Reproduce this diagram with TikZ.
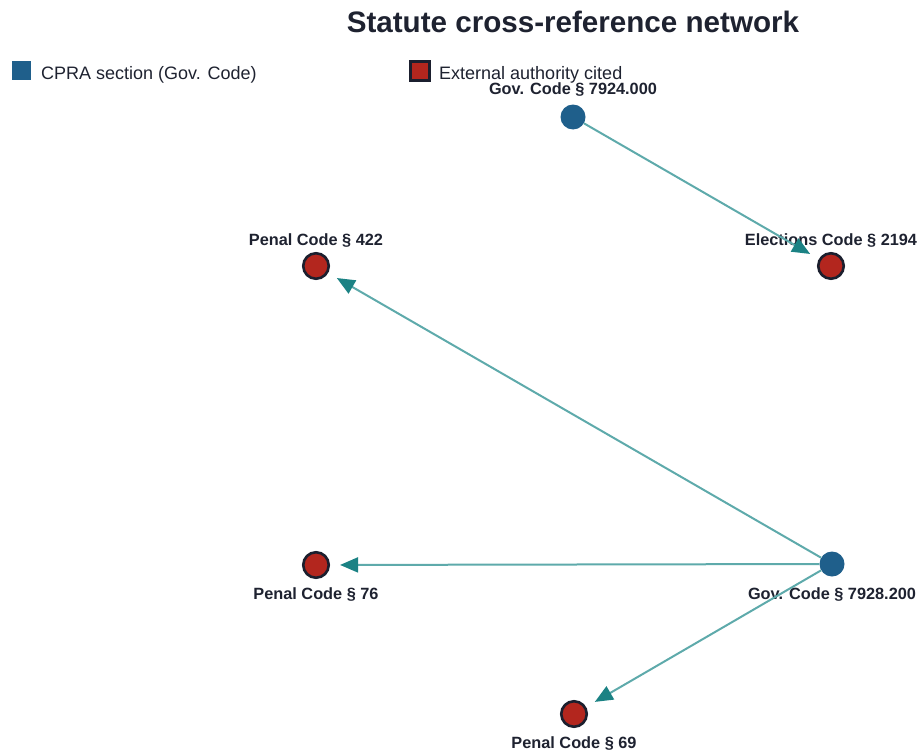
\documentclass[tikz,border=0pt]{standalone}
\usepackage{fontspec}
\setmainfont{Liberation Sans}
\usetikzlibrary{arrows.meta}

\definecolor{cpra}{HTML}{1F5F8B}
\definecolor{extred}{HTML}{B3261E}
\definecolor{rim}{HTML}{1B1F2E}
\definecolor{ink}{HTML}{1E2230}
\definecolor{edgeteal}{HTML}{5EAAAB}
\definecolor{tipteal}{HTML}{1B8284}

\tikzset{
  govnode/.style={circle, fill=cpra, draw=none, minimum size=25pt, inner sep=0pt},
  extnode/.style={circle, fill=extred, draw=rim, line width=2.6pt, minimum size=25.5pt, inner sep=0pt},
  namelabel/.style={anchor=base, text=ink, font=\fontsize{16.3}{18}\selectfont\bfseries, inner sep=0pt},
  legendtext/.style={anchor=base west, text=ink, font=\fontsize{18}{20}\selectfont, inner sep=0pt},
  citeedge/.style={draw=edgeteal, line width=2pt, shorten >=10pt,
    -{Triangle[length=18pt, width=15pt, color=tipteal]}},
}

\begin{document}
\begin{tikzpicture}[x=1pt, y=-1pt]
  \useasboundingbox (0,0) rectangle (921,752);

  % title
  \node (title) [anchor=base, text=ink, inner sep=0pt,
    font=\fontsize{29.6}{33}\selectfont\bfseries] at (573,33) {Statute cross-reference network};

  % legend
  \node (keygov) [rectangle, fill=cpra, minimum size=19pt, inner sep=0pt] at (21,71) {};
  \node (keygovtext) [legendtext] at (41,79) {CPRA section (Gov. Code)};
  \node (keyext) [rectangle, fill=extred, draw=rim, line width=2.4pt, minimum size=19pt, inner sep=0pt] at (420,71) {};
  \node (keyexttext) [legendtext] at (439,79) {External authority cited};

  % statute nodes
  \node (g7924) [govnode] at (573,117) {};
  \node (g7928) [govnode] at (832,564) {};
  \node (e2194) [extnode] at (831,266) {};
  \node (p422)  [extnode] at (316,266) {};
  \node (p76)   [extnode] at (316,565) {};
  \node (p69)   [extnode] at (574,714) {};

  % node names
  \node (g7924name) [namelabel] at (573,95)  {Gov. Code § 7924.000};
  \node (e2194name) [namelabel] at (831,245) {Elections Code § 2194};
  \node (p422name)  [namelabel] at (316,245) {Penal Code § 422};
  \node (p76name)   [namelabel] at (316,599) {Penal Code § 76};
  \node (g7928name) [namelabel] at (832,599) {Gov. Code § 7928.200};
  \node (p69name)   [namelabel] at (574,748) {Penal Code § 69};

  % citations
  \draw[citeedge] (g7924) -- (e2194);
  \draw[citeedge] (g7928) -- (p422);
  \draw[citeedge] (g7928) -- (p76);
  \draw[citeedge] (g7928) -- (p69);
\end{tikzpicture}
\end{document}
